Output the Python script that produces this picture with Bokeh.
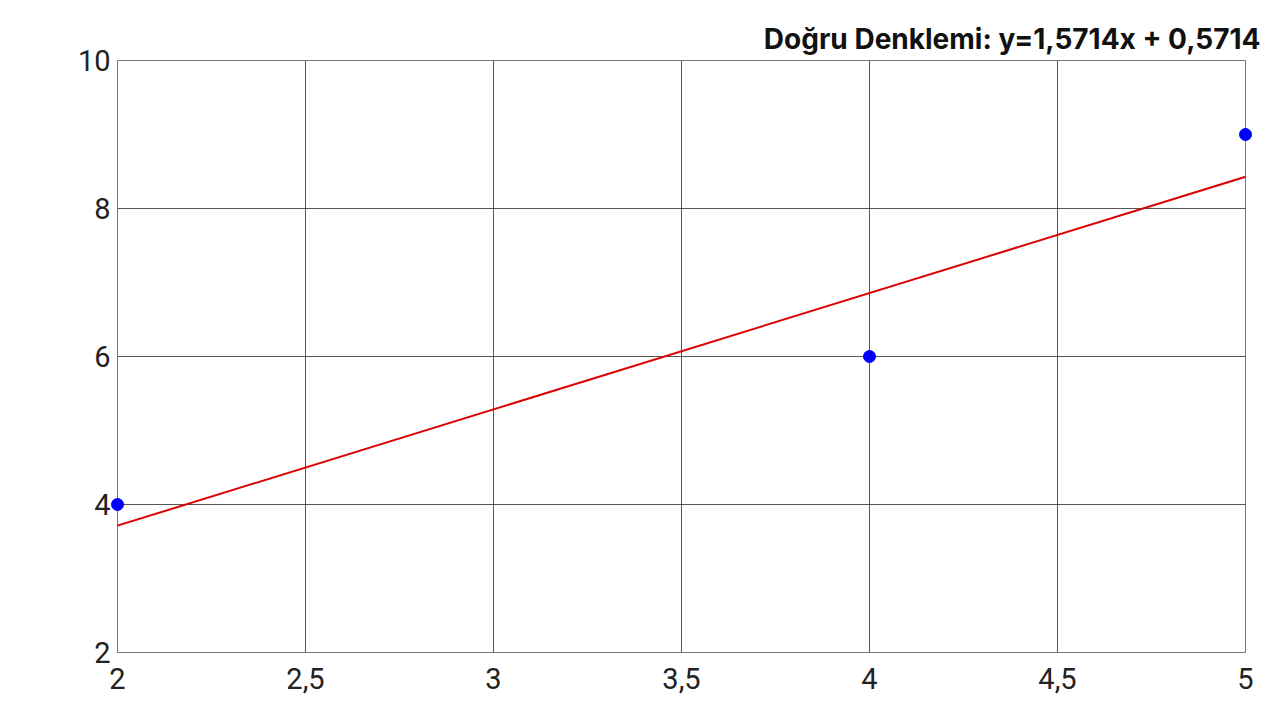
from bokeh.plotting import figure
from bokeh.models import Slope, FixedTicker, CustomJSTickFormatter, ColumnDataSource, Range1d
from bokeh.embed import file_html
from bokeh.resources import INLINE

# data
x_pts = [2, 4, 5]
y_pts = [4, 6, 9]
slope = 1.5714
intercept = 0.5714
x_ticks = [2, 2.5, 3, 3.5, 4, 4.5, 5]
y_ticks = [2, 4, 6, 8, 10]
title_text = "Doğru Denklemi: y=1,5714x + 0,5714"

p = figure(width=1264, height=700, output_backend="svg", toolbar_location=None,
           x_range=Range1d(2, 5), y_range=Range1d(2, 10),
           min_border_left=117, min_border_right=19, min_border_top=60, min_border_bottom=48)

p.title.text = title_text
p.title.align = "right"
p.title.text_font = "Inter"
p.title.text_font_style = "bold"
p.title.text_font_size = "28px"
p.title.text_color = "#111111"
p.title.offset = -15

p.background_fill_color = "white"
p.border_fill_color = "white"
p.outline_line_color = "#777777"
p.outline_line_width = 1

fmt = CustomJSTickFormatter(code="return tick.toString().replace('.', ',');")
for ax, ticks in ((p.xaxis[0], x_ticks), (p.yaxis[0], y_ticks)):
    ax.ticker = FixedTicker(ticks=ticks)
    ax.formatter = fmt
    ax.major_tick_line_color = None
    ax.minor_tick_line_color = None
    ax.axis_line_color = "#777777"
    ax.major_label_text_font = "Roboto"
    ax.major_label_text_font_size = "29px"
    ax.major_label_text_color = "#222222"
p.xaxis[0].major_label_standoff = 9
p.yaxis[0].major_label_standoff = 1

p.xgrid.ticker = FixedTicker(ticks=x_ticks)
p.ygrid.ticker = FixedTicker(ticks=y_ticks)
for g in (p.xgrid[0], p.ygrid[0]):
    g.grid_line_color = "#444444"
    g.grid_line_width = 1
    g.grid_line_alpha = 0.9

p.add_layout(Slope(gradient=slope, y_intercept=intercept, line_color="#dd0000", line_width=2))

src = ColumnDataSource(dict(x=x_pts, y=y_pts))
p.scatter("x", "y", source=src, size=12, fill_color="#0000ff", line_color="#0000ff", level="overlay")

open("out.html", "w").write(file_html(p, INLINE))
